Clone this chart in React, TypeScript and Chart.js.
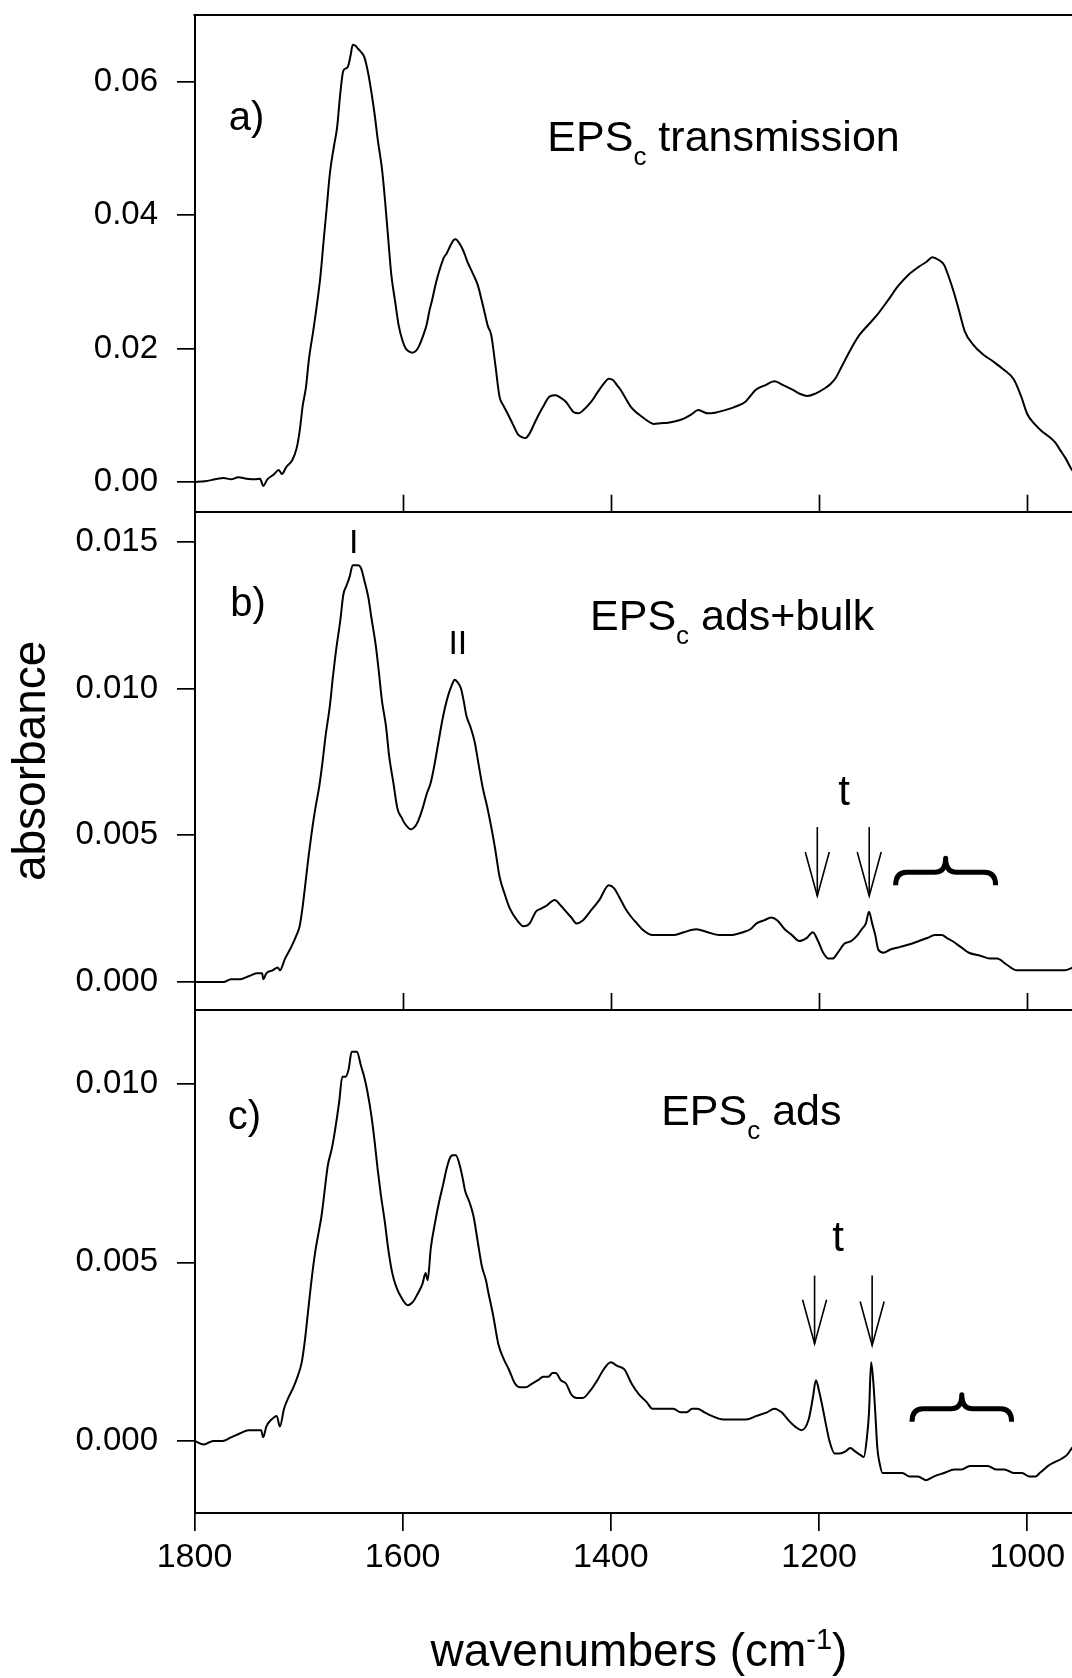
import React, { useEffect, useRef } from 'react';
import { Chart, registerables } from 'chart.js';

Chart.register(...registerables);

const PAGE_W = 1072;
const PAGE_H = 1678;

// ---------- axis values ----------
const xTickValues = [1800, 1600, 1400, 1200, 1000];
const xRange = [957, 1800];

const yTicksA = [0, 0.02, 0.04, 0.06];
const yTicksB = [0, 0.005, 0.01, 0.015];
const yTicksC = [0, 0.005, 0.01];

const yRangeA = [-0.00446, 0.07005];
const yRangeB = [-0.00095, 0.01602];
const yRangeC = [-0.00202, 0.01207];

// ---------- panel a) EPSc transmission ----------
const wnA = [
  1800, 1790, 1780, 1772, 1765, 1758, 1750, 1742, 1737, 1734,
  1730, 1724, 1719, 1716, 1712, 1706, 1702, 1699, 1696, 1693,
  1690, 1686, 1683, 1679, 1676, 1673, 1670, 1666, 1663, 1660,
  1657, 1653, 1650, 1648, 1645, 1643, 1640, 1637, 1633, 1630,
  1627, 1624, 1620, 1617, 1614, 1611, 1607, 1604, 1600, 1597,
  1593, 1591, 1587, 1584, 1580, 1577, 1574, 1572, 1568, 1564,
  1560, 1558, 1554, 1551, 1549, 1546, 1543, 1540, 1538, 1533,
  1528, 1524, 1521, 1518, 1515, 1511, 1507, 1503, 1499, 1494,
  1489, 1485, 1482, 1478, 1474, 1469, 1464, 1459, 1453, 1448,
  1443, 1439, 1436, 1431, 1425, 1419, 1413, 1407, 1402, 1398,
  1394, 1391, 1386, 1381, 1376, 1372, 1366, 1359, 1352, 1345,
  1338, 1330, 1323, 1316, 1311, 1307, 1300, 1292, 1282, 1271,
  1266, 1261, 1252, 1243, 1234, 1225, 1218, 1211, 1203, 1194,
  1189, 1184, 1178, 1172, 1166, 1161, 1152, 1144, 1134, 1124,
  1114, 1104, 1097, 1091, 1085, 1080, 1075, 1070, 1065, 1060,
  1052, 1043, 1033, 1023, 1013, 1006, 1000, 993, 986, 979,
  973, 968, 963, 957, 953,
];
const absA = [
  0.0000, 0.0001, 0.0004, 0.0006, 0.0004, 0.0007, 0.0005, 0.0004, 0.0005, -0.0006,
  0.0004, 0.0011, 0.0018, 0.0012, 0.0022, 0.0033, 0.0050, 0.0076, 0.0115, 0.0141,
  0.0185, 0.0226, 0.0259, 0.0309, 0.0361, 0.0411, 0.0462, 0.0504, 0.0532, 0.0582,
  0.0617, 0.0622, 0.0640, 0.0656, 0.0654, 0.0650, 0.0645, 0.0638, 0.0612, 0.0584,
  0.0552, 0.0514, 0.0471, 0.0423, 0.0367, 0.0312, 0.0268, 0.0236, 0.0211, 0.0200,
  0.0195, 0.0194, 0.0197, 0.0205, 0.0221, 0.0236, 0.0259, 0.0271, 0.0299, 0.0321,
  0.0338, 0.0342, 0.0355, 0.0363, 0.0364, 0.0359, 0.0351, 0.0340, 0.0331, 0.0314,
  0.0296, 0.0272, 0.0252, 0.0233, 0.0221, 0.0176, 0.0128, 0.0114, 0.0102, 0.0086,
  0.0071, 0.0067, 0.0066, 0.0073, 0.0086, 0.0102, 0.0116, 0.0128, 0.0130, 0.0126,
  0.0120, 0.0111, 0.0105, 0.0103, 0.0110, 0.0120, 0.0134, 0.0147, 0.0155, 0.0153,
  0.0145, 0.0139, 0.0126, 0.0113, 0.0105, 0.0100, 0.0093, 0.0087, 0.0088, 0.0089,
  0.0091, 0.0095, 0.0101, 0.0108, 0.0105, 0.0103, 0.0104, 0.0107, 0.0112, 0.0120,
  0.0129, 0.0138, 0.0145, 0.0151, 0.0145, 0.0138, 0.0132, 0.0129, 0.0133, 0.0141,
  0.0147, 0.0156, 0.0174, 0.0192, 0.0209, 0.0221, 0.0237, 0.0251, 0.0272, 0.0294,
  0.0311, 0.0323, 0.0330, 0.0337, 0.0333, 0.0326, 0.0306, 0.0282, 0.0254, 0.0226,
  0.0206, 0.0192, 0.0181, 0.0169, 0.0154, 0.0129, 0.0102, 0.0087, 0.0076, 0.0068,
  0.0059, 0.0047, 0.0035, 0.0018, 0.0012,
];

// ---------- panel b) EPSc ads+bulk ----------
const wnB = [
  1800, 1790, 1780, 1772, 1765, 1756, 1748, 1740, 1735, 1734,
  1731, 1725, 1720, 1718, 1713, 1707, 1702, 1699, 1696, 1693,
  1690, 1687, 1684, 1680, 1677, 1674, 1670, 1667, 1664, 1660,
  1657, 1654, 1651, 1648, 1645, 1643, 1640, 1637, 1633, 1630,
  1626, 1623, 1620, 1616, 1613, 1609, 1605, 1601, 1598, 1592,
  1588, 1585, 1581, 1577, 1573, 1570, 1566, 1562, 1559, 1556,
  1553, 1550, 1547, 1544, 1541, 1539, 1535, 1531, 1527, 1523,
  1519, 1515, 1511, 1507, 1502, 1497, 1490, 1484, 1478, 1472,
  1467, 1462, 1454, 1448, 1443, 1438, 1433, 1427, 1420, 1411,
  1402, 1397, 1392, 1386, 1380, 1375, 1370, 1360, 1350, 1340,
  1330, 1318, 1307, 1296, 1285, 1273, 1266, 1260, 1253, 1246,
  1240, 1233, 1226, 1219, 1212, 1206, 1201, 1196, 1191, 1187,
  1182, 1176, 1169, 1163, 1159, 1155, 1152, 1149, 1146, 1143,
  1138, 1132, 1122, 1112, 1104, 1096, 1089, 1082, 1077, 1072,
  1064, 1056, 1045, 1036, 1029, 1020, 1010, 1002, 990, 980,
  972, 964, 956,
];
const absB = [
  0.0000, 0.0000, 0.0000, 0.0000, 0.0001, 0.0001, 0.0002, 0.0003, 0.0003, 0.0001,
  0.0003, 0.0004, 0.0005, 0.0004, 0.0008, 0.0012, 0.0016, 0.0019, 0.0026, 0.0035,
  0.0044, 0.0052, 0.0059, 0.0067, 0.0075, 0.0084, 0.0094, 0.0104, 0.0113, 0.0123,
  0.0132, 0.0135, 0.0138, 0.0142, 0.0142, 0.0142, 0.0141, 0.0137, 0.0131, 0.0124,
  0.0115, 0.0106, 0.0096, 0.0087, 0.0077, 0.0068, 0.0059, 0.0056, 0.0054, 0.0052,
  0.0053, 0.0055, 0.0059, 0.0064, 0.0068, 0.0073, 0.0081, 0.0089, 0.0094, 0.0098,
  0.0101, 0.0103, 0.0102, 0.0100, 0.0095, 0.0091, 0.0087, 0.0082, 0.0074, 0.0066,
  0.0060, 0.0053, 0.0045, 0.0036, 0.0030, 0.0025, 0.0021, 0.0019, 0.0020, 0.0024,
  0.0025, 0.0026, 0.0028, 0.0026, 0.0024, 0.0022, 0.0020, 0.0021, 0.0024, 0.0028,
  0.0033, 0.0032, 0.0029, 0.0025, 0.0022, 0.0020, 0.0018, 0.0016, 0.0016, 0.0016,
  0.0017, 0.0018, 0.0017, 0.0016, 0.0016, 0.0017, 0.0018, 0.0020, 0.0021, 0.0022,
  0.0021, 0.0018, 0.0016, 0.0014, 0.0015, 0.0017, 0.0014, 0.0010, 0.0008, 0.0008,
  0.0010, 0.0013, 0.0014, 0.0016, 0.0018, 0.0020, 0.0024, 0.0020, 0.0016, 0.0011,
  0.0010, 0.0011, 0.0012, 0.0013, 0.0014, 0.0015, 0.0016, 0.0016, 0.0015, 0.0014,
  0.0012, 0.0010, 0.0009, 0.0008, 0.0008, 0.0006, 0.0004, 0.0004, 0.0004, 0.0004,
  0.0004, 0.0004, 0.0005,
];

// ---------- panel c) EPSc ads ----------
const wnC = [
  1800, 1791, 1782, 1773, 1765, 1757, 1748, 1740, 1736, 1734,
  1731, 1726, 1721, 1718, 1714, 1710, 1705, 1701, 1697, 1694,
  1691, 1688, 1684, 1681, 1678, 1675, 1672, 1668, 1665, 1661,
  1658, 1655, 1652, 1649, 1646, 1644, 1640, 1637, 1634, 1630,
  1627, 1624, 1621, 1617, 1614, 1610, 1606, 1601, 1595, 1590,
  1586, 1581, 1578, 1576, 1573, 1569, 1565, 1561, 1558, 1555,
  1552, 1549, 1545, 1542, 1540, 1536, 1532, 1528, 1524, 1520,
  1518, 1513, 1508, 1503, 1498, 1492, 1487, 1482, 1476, 1470,
  1465, 1460, 1456, 1453, 1448, 1443, 1438, 1433, 1427, 1420,
  1413, 1407, 1400, 1394, 1387, 1380, 1373, 1366, 1360, 1350,
  1340, 1333, 1327, 1322, 1317, 1310, 1303, 1292, 1280, 1270,
  1260, 1250, 1243, 1236, 1230, 1223, 1217, 1210, 1206, 1203,
  1200, 1197, 1193, 1190, 1185, 1180, 1175, 1170, 1165, 1160,
  1157, 1154, 1152, 1150, 1148, 1146, 1144, 1142, 1139, 1135,
  1127, 1120, 1113, 1105, 1097, 1090, 1080, 1070, 1063, 1055,
  1047, 1038, 1030, 1022, 1013, 1005, 998, 992, 988, 984,
  980, 974, 967, 962, 957, 953,
];
const absC = [
  0.0000, -0.0001, 0.0000, 0.0000, 0.0001, 0.0002, 0.0003, 0.0003, 0.0003, 0.0001,
  0.0004, 0.0006, 0.0007, 0.0004, 0.0009, 0.0012, 0.0015, 0.0018, 0.0022, 0.0028,
  0.0036, 0.0044, 0.0053, 0.0058, 0.0063, 0.0070, 0.0077, 0.0082, 0.0087, 0.0095,
  0.0102, 0.0102, 0.0104, 0.0109, 0.0109, 0.0109, 0.0105, 0.0102, 0.0098, 0.0091,
  0.0084, 0.0076, 0.0069, 0.0061, 0.0054, 0.0047, 0.0043, 0.0040, 0.0038, 0.0039,
  0.0041, 0.0044, 0.0047, 0.0045, 0.0054, 0.0061, 0.0067, 0.0072, 0.0076, 0.0079,
  0.0080, 0.0080, 0.0077, 0.0073, 0.0070, 0.0067, 0.0063, 0.0056, 0.0049, 0.0045,
  0.0042, 0.0035, 0.0027, 0.0023, 0.0020, 0.0016, 0.0015, 0.0015, 0.0016, 0.0017,
  0.0018, 0.0018, 0.0019, 0.0019, 0.0017, 0.0016, 0.0013, 0.0012, 0.0012, 0.0014,
  0.0017, 0.0020, 0.0022, 0.0021, 0.0020, 0.0016, 0.0013, 0.0011, 0.0009, 0.0009,
  0.0009, 0.0008, 0.0008, 0.0009, 0.0009, 0.0008, 0.0007, 0.0006, 0.0006, 0.0006,
  0.0007, 0.0008, 0.0009, 0.0008, 0.0006, 0.0004, 0.0003, 0.0006, 0.0012, 0.0017,
  0.0014, 0.0010, 0.0004, 0.0000, -0.00035, -0.00035, -0.0003, -0.0002, -0.0003, -0.0004,
  -0.00045, 0.0001, 0.0008, 0.0022, 0.0017, 0.0008, -0.0002, -0.0006, -0.0009, -0.0009,
  -0.0009, -0.0009, -0.0010, -0.0010, -0.0011, -0.0010, -0.0009, -0.0008, -0.0008, -0.0007,
  -0.0007, -0.0007, -0.0008, -0.0008, -0.0009, -0.0009, -0.0010, -0.0010, -0.0009, -0.0008,
  -0.0007, -0.0006, -0.0005, -0.0004, -0.0002, -0.0001,
];

// ---------- annotation anchors (data coordinates) ----------
type Mark = { text: string; wn: number; v: number };
type Arrow = { wn: number; top: number; tip: number };
type Brace = { from: number; to: number; v: number };

const SANS = '"Liberation Sans", Arial, Helvetica, sans-serif';

interface Panel {
  wn: number[];
  abs: number[];
  yRange: number[];
  yTicks: number[];
  decimals: number;
  frameTop: number;
  frameBottom: number;
  letter: Mark;
  title: Mark;
  marks: Mark[];
  arrows: Arrow[];
  brace: Brace | null;
  first: boolean;
  last: boolean;
  yTitle: string | null;
}

const panels: Panel[] = [
  {
    wn: wnA, abs: absA, yRange: yRangeA, yTicks: yTicksA, decimals: 2,
    frameTop: 15, frameBottom: 511.7,
    letter: { text: 'a)', wn: 1750, v: 0.05445 },
    title: { text: 'transmission', wn: 1461, v: 0.04968 },
    marks: [], arrows: [], brace: null, first: true, last: false, yTitle: null,
  },
  {
    wn: wnB, abs: absB, yRange: yRangeB, yTicks: yTicksB, decimals: 3,
    frameTop: 511.7, frameBottom: 1010,
    letter: { text: 'b)', wn: 1748.5, v: 0.01285 },
    title: { text: 'ads+bulk', wn: 1420, v: 0.01199 },
    marks: [
      { text: 'I', wn: 1647, v: 0.0146 },
      { text: 'II', wn: 1547, v: 0.01116 },
      { text: 't', wn: 1176, v: 0.00603 },
    ],
    arrows: [
      { wn: 1201.7, top: 0.00528, tip: 0.00293 },
      { wn: 1151.8, top: 0.00528, tip: 0.00293 },
    ],
    brace: { from: 1126.4, to: 1030.4, v: 0.00374 },
    first: false, last: false, yTitle: 'absorbance',
  },
  {
    wn: wnC, abs: absC, yRange: yRangeC, yTicks: yTicksC, decimals: 3,
    frameTop: 1010, frameBottom: 1513,
    letter: { text: 'c)', wn: 1752, v: 0.00905 },
    title: { text: 'ads', wn: 1351.7, v: 0.00886 },
    marks: [{ text: 't', wn: 1181.7, v: 0.00533 }],
    arrows: [
      { wn: 1204.3, top: 0.00463, tip: 0.00272 },
      { wn: 1149, top: 0.00463, tip: 0.00267 },
    ],
    brace: { from: 1110.7, to: 1015, v: 0.0009 },
    first: false, last: true, yTitle: null,
  },
];

function drawParts(ctx: CanvasRenderingContext2D, x: number, y: number,
  parts: { t: string; size: number; dy: number }[], align: 'left' | 'center', family: string) {
  ctx.textAlign = 'left';
  ctx.textBaseline = 'alphabetic';
  let total = 0;
  for (const p of parts) { ctx.font = `${p.size}px ${family}`; total += ctx.measureText(p.t).width; }
  let cx = align === 'center' ? x - total / 2 : x;
  for (const p of parts) {
    ctx.font = `${p.size}px ${family}`;
    ctx.fillText(p.t, cx, y + p.dy);
    cx += ctx.measureText(p.t).width;
  }
}

function makeDecor(p: Panel) {
  return {
    id: 'panelDecor',
    afterDraw(chart: any) {
      const ctx: CanvasRenderingContext2D = chart.ctx;
      const a = chart.chartArea;
      const X = (v: number) => chart.scales.x.getPixelForValue(v);
      const Y = (v: number) => chart.scales.y.getPixelForValue(v);
      ctx.save();
      ctx.strokeStyle = '#000';
      ctx.fillStyle = '#000';
      ctx.lineCap = 'butt';
      if (p.first) {
        ctx.lineWidth = 2;
        ctx.beginPath(); ctx.moveTo(a.left - 1, a.top); ctx.lineTo(a.right, a.top); ctx.stroke();
      }
      if (!p.last) {
        ctx.lineWidth = 1.7;
        for (const v of xTickValues) {
          if (v === xRange[1]) continue;
          const x = Math.round(X(v)) + 0.5;
          ctx.beginPath(); ctx.moveTo(x, a.bottom); ctx.lineTo(x, a.bottom - 17); ctx.stroke();
        }
      }
      // panel letter
      ctx.font = `40px ${SANS}`;
      ctx.textAlign = 'center';
      ctx.textBaseline = 'middle';
      ctx.fillText(p.letter.text, X(p.letter.wn), Y(p.letter.v));
      // EPS_c title
      drawParts(ctx, X(p.title.wn), Y(p.title.v), [
        { t: 'EPS', size: 43, dy: 0 },
        { t: 'c', size: 26, dy: 14 },
        { t: ' ' + p.title.text, size: 43, dy: 0 },
      ], 'left', SANS);
      // marks
      ctx.textAlign = 'center';
      ctx.textBaseline = 'alphabetic';
      for (const m of p.marks) {
        ctx.font = `${m.text === 't' ? 42 : 34}px ${SANS}`;
        ctx.fillText(m.text, X(m.wn), Y(m.v));
      }
      // arrows
      ctx.lineWidth = 1.6;
      for (const ar of p.arrows) {
        const x = X(ar.wn); const y0 = Y(ar.top); const y1 = Y(ar.tip);
        ctx.beginPath(); ctx.moveTo(x, y0); ctx.lineTo(x, y1); ctx.stroke();
        ctx.beginPath(); ctx.moveTo(x - 12, y1 - 44); ctx.lineTo(x, y1); ctx.lineTo(x + 12, y1 - 44); ctx.stroke();
      }
      // brace
      if (p.brace) {
        const xl = X(p.brace.from), xr = X(p.brace.to), yb = Y(p.brace.v);
        const xm = (xl + xr) / 2;
        const r = 11;
        ctx.lineWidth = 5;
        ctx.lineJoin = 'round';
        ctx.beginPath();
        ctx.moveTo(xl, yb + 13);
        ctx.quadraticCurveTo(xl, yb, xl + r, yb);
        ctx.lineTo(xm - r, yb);
        ctx.quadraticCurveTo(xm, yb, xm, yb - 14);
        ctx.quadraticCurveTo(xm, yb, xm + r, yb);
        ctx.lineTo(xr - r, yb);
        ctx.quadraticCurveTo(xr, yb, xr, yb + 13);
        ctx.stroke();
      }
      // x-axis title with superscript
      if (p.last) {
        drawParts(ctx, X(1373), a.bottom + 153, [
          { t: 'wavenumbers (cm', size: 46, dy: 0 },
          { t: '-1', size: 29, dy: -17 },
          { t: ')', size: 46, dy: 0 },
        ], 'center', SANS);
      }
      ctx.restore();
    },
  };
}

function buildChart(canvas: HTMLCanvasElement, p: Panel) {
  const data = p.wn.map((x, i) => ({ x, y: p.abs[i] }));
  return new Chart(canvas, {
    type: 'line',
    data: {
      datasets: [{
        data,
        borderColor: '#000',
        borderWidth: 2,
        pointRadius: 0,
        fill: false,
        cubicInterpolationMode: 'monotone',
      }],
    },
    options: {
      animation: false,
      responsive: false,
      events: [],
      layout: { padding: { top: p.frameTop, bottom: p.last ? 0 : PAGE_H - p.frameBottom, left: 0, right: 0 } },
      plugins: { legend: { display: false }, tooltip: { enabled: false } },
      scales: {
        x: {
          type: 'linear',
          reverse: true,
          min: xRange[0],
          max: xRange[1],
          afterBuildTicks: (s: any) => { s.ticks = xTickValues.map((v) => ({ value: v })); },
          afterFit: (s: any) => { s.height = p.last ? PAGE_H - p.frameBottom : 0; s.paddingLeft = 0; s.paddingRight = 0; },
          ticks: {
            display: p.last,
            font: { family: SANS, size: 34 },
            color: '#000',
            padding: 6,
            maxRotation: 0,
            autoSkip: false,
            callback: (v: any) => String(v),
          },
          grid: { display: p.last, drawOnChartArea: false, drawTicks: p.last, tickLength: 18, color: '#000', lineWidth: 1.7 },
          border: { display: true, color: '#000', width: 2 },
        },
        y: {
          type: 'linear',
          min: p.yRange[0],
          max: p.yRange[1],
          afterBuildTicks: (s: any) => { s.ticks = p.yTicks.map((v) => ({ value: v })); },
          afterFit: (s: any) => { s.width = 194.5; s.paddingTop = 0; s.paddingBottom = 0; },
          ticks: {
            font: { family: SANS, size: 33 },
            color: '#000',
            padding: 19,
            callback: (v: any) => Number(v).toFixed(p.decimals),
          },
          grid: { drawOnChartArea: false, drawTicks: true, tickLength: 17.5, color: '#000', lineWidth: 1.7 },
          border: { display: true, color: '#000', width: 2 },
          title: p.yTitle
            ? { display: true, text: p.yTitle, color: '#000', font: { family: SANS, size: 46, lineHeight: 1 }, padding: { top: 9, bottom: 0 } }
            : { display: false },
        },
      },
    },
    plugins: [makeDecor(p)],
  } as any);
}

export default function App() {
  const refs = [useRef<HTMLCanvasElement>(null), useRef<HTMLCanvasElement>(null), useRef<HTMLCanvasElement>(null)];

  useEffect(() => {
    const charts = panels.map((p, i) => buildChart(refs[i].current as HTMLCanvasElement, p));
    return () => { charts.forEach((c) => c.destroy()); };
  }, []);

  return (
    <div style={{ position: 'absolute', left: 0, top: 0, width: PAGE_W, height: PAGE_H, background: '#fff', overflow: 'hidden' }}>
      {refs.map((r, i) => (
        <canvas
          key={i}
          ref={r}
          width={PAGE_W}
          height={PAGE_H}
          style={{ position: 'absolute', left: 0, top: 0, width: PAGE_W, height: PAGE_H }}
        />
      ))}
    </div>
  );
}
